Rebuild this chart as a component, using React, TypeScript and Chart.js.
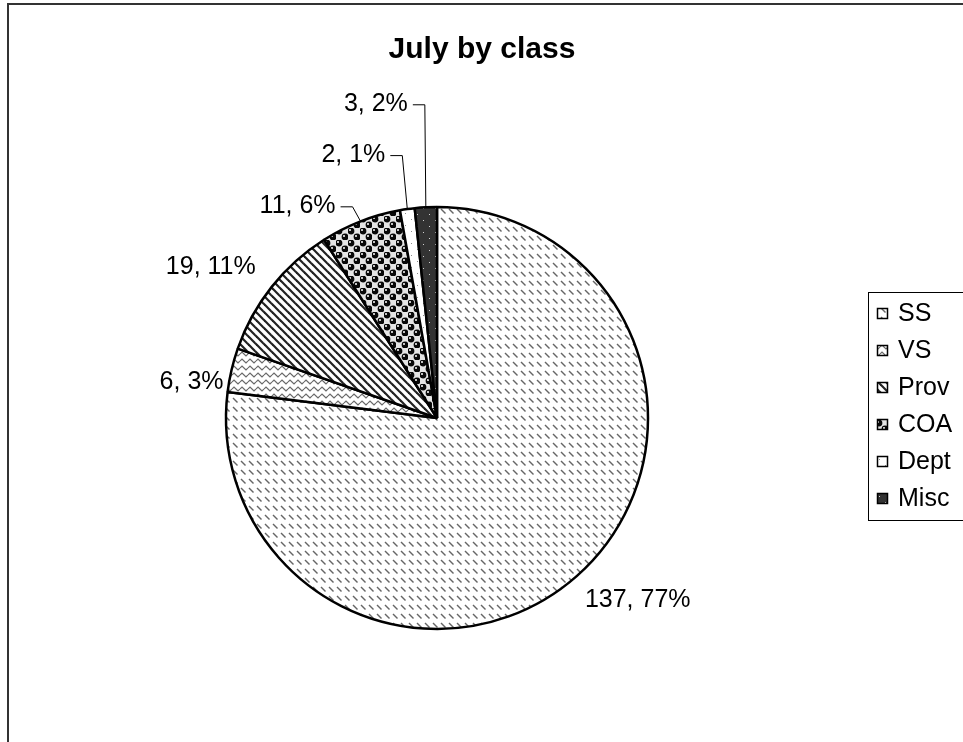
import { useEffect, useRef } from 'react';
import { Chart, registerables } from 'chart.js';

Chart.register(...registerables);

// ---- data ----
const titleText = 'July by class';
const categories = ['SS', 'VS', 'Prov', 'COA', 'Dept', 'Misc'];
const counts = [137, 6, 19, 11, 2, 3];
const patternKinds = ['dashes', 'waves', 'stripes', 'balls', 'dots', 'darkdots'];

// ---- label placement (offsets from the outer edge at each slice's mid angle) ----
const labelPlacement = [
  { dx: 61, dy: 24, align: 'center', leader: false },
  { dx: -8, dy: 12, align: 'right', leader: false },
  { dx: -16, dy: -20, align: 'right', leader: false },
  { dx: -25, dy: -15, align: 'right', leader: true },
  { dx: -22, dy: -54, align: 'right', leader: true },
  { dx: -18, dy: -103, align: 'right', leader: true },
];

const FONT = '"Liberation Sans", Arial, Helvetica, sans-serif';

function makePattern(kind: string): CanvasPattern | string {
  const c = document.createElement('canvas');
  let w = 8, h = 8;
  if (kind === 'dashes') { w = 8; h = 9; }
  if (kind === 'waves') { w = 8; h = 7; }
  if (kind === 'stripes') { w = 8; h = 8; }
  if (kind === 'balls') { w = 12; h = 12; }
  if (kind === 'dots') { w = 12; h = 12; }
  if (kind === 'darkdots') { w = 12; h = 12; }
  c.width = w; c.height = h;
  const g = c.getContext('2d')!;
  g.fillStyle = '#ffffff';
  g.fillRect(0, 0, w, h);
  if (kind === 'dashes') {
    g.strokeStyle = '#666666';
    g.lineWidth = 1.4;
    g.beginPath(); g.moveTo(1, 2); g.lineTo(5.5, 6.5); g.stroke();
  } else if (kind === 'waves') {
    g.strokeStyle = '#6a6a6a';
    g.lineWidth = 1.1;
    g.beginPath();
    g.moveTo(0, 4); g.lineTo(2, 2); g.lineTo(4, 4); g.lineTo(6, 6); g.lineTo(8, 4);
    g.stroke();
  } else if (kind === 'stripes') {
    g.strokeStyle = '#222222';
    g.lineWidth = 2.2;
    for (let k = -1; k <= 1; k++) {
      g.beginPath(); g.moveTo(-2, -2 + 8 * k); g.lineTo(10, 10 + 8 * k); g.stroke();
    }
  } else if (kind === 'balls') {
    g.fillStyle = '#e4e4e4';
    g.fillRect(0, 0, w, h);
    const centers = [[3, 3], [9, 9]];
    for (const [cx, cy] of centers) {
      g.fillStyle = '#080808';
      g.beginPath(); g.arc(cx, cy, 3.4, 0, Math.PI * 2); g.fill();
      g.fillStyle = '#ffffff';
      g.beginPath(); g.arc(cx - 1, cy - 1.1, 1.0, 0, Math.PI * 2); g.fill();
    }
  } else if (kind === 'dots') {
    g.fillStyle = '#8a8a8a';
    g.fillRect(3, 3, 1, 1);
    g.fillRect(9, 9, 1, 1);
  } else if (kind === 'darkdots') {
    g.fillStyle = '#333333';
    g.fillRect(0, 0, w, h);
    g.fillStyle = '#d0d0d0';
    g.fillRect(3, 4, 1, 1);
    g.fillRect(9, 10, 1, 1);
  }
  return g.createPattern(c, 'repeat') || '#ccc';
}

export default function App() {
  const ref = useRef<HTMLCanvasElement | null>(null);

  useEffect(() => {
    const canvas = ref.current;
    if (!canvas) return;
    const patterns = patternKinds.map(makePattern);
    const total = counts.reduce((a, b) => a + b, 0);

    const framePlugin = {
      id: 'frame',
      beforeDraw(chart: any) {
        const ctx = chart.ctx as CanvasRenderingContext2D;
        ctx.save();
        ctx.fillStyle = '#ffffff';
        ctx.fillRect(0, 0, chart.width, chart.height);
        ctx.strokeStyle = '#333333';
        ctx.lineWidth = 2;
        ctx.strokeRect(8, 4, 1000, 1000);
        // title
        ctx.fillStyle = '#000';
        ctx.font = `bold 30px ${FONT}`;
        ctx.textAlign = 'center';
        ctx.textBaseline = 'middle';
        ctx.fillText(titleText, 482, 50);
        ctx.restore();
      },
    };

    const labelPlugin = {
      id: 'sliceLabels',
      afterDatasetsDraw(chart: any) {
        const ctx = chart.ctx as CanvasRenderingContext2D;
        const meta = chart.getDatasetMeta(0);
        ctx.save();
        ctx.font = `25px ${FONT}`;
        ctx.fillStyle = '#000';
        ctx.strokeStyle = '#000';
        ctx.lineWidth = 1;
        ctx.textBaseline = 'middle';
        meta.data.forEach((arc: any, i: number) => {
          const p = arc.getProps(['x', 'y', 'startAngle', 'endAngle', 'outerRadius'], true);
          const mid = (p.startAngle + p.endAngle) / 2;
          const ax = p.x + Math.cos(mid) * p.outerRadius;
          const ay = p.y + Math.sin(mid) * p.outerRadius;
          const place = labelPlacement[i];
          const tx = ax + place.dx;
          const ty = ay + place.dy;
          const pct = Math.round((counts[i] / total) * 100);
          const text = `${counts[i]}, ${pct}%`;
          ctx.textAlign = place.align as CanvasTextAlign;
          ctx.fillText(text, tx, ty);
          if (place.leader) {
            const sx = tx + 5;
            const cx = sx + 12;
            ctx.beginPath();
            ctx.moveTo(sx, ty + 0.5);
            ctx.lineTo(cx, ty + 0.5);
            ctx.lineTo(ax, ay);
            ctx.stroke();
          }
        });
        ctx.restore();
      },
    };

    const legendPlugin = {
      id: 'boxLegend',
      afterDraw(chart: any) {
        const ctx = chart.ctx as CanvasRenderingContext2D;
        ctx.save();
        ctx.strokeStyle = '#000';
        ctx.lineWidth = 1;
        ctx.strokeRect(868.5, 292.5, 200, 228);
        ctx.font = `25px ${FONT}`;
        ctx.textBaseline = 'middle';
        ctx.textAlign = 'left';
        categories.forEach((name, i) => {
          const y = 313 + i * 37;
          ctx.fillStyle = patterns[i] as any;
          ctx.fillRect(877, y - 5, 11, 11);
          ctx.strokeStyle = '#000';
          ctx.lineWidth = 1.5;
          ctx.strokeRect(877.5, y - 4.5, 10, 10);
          ctx.fillStyle = '#000';
          ctx.fillText(name, 898, y + 1);
        });
        ctx.restore();
      },
    };

    const chart = new Chart(canvas, {
      type: 'pie',
      data: {
        labels: categories,
        datasets: [
          {
            data: counts,
            backgroundColor: patterns as any,
            borderColor: '#000000',
            borderWidth: 2.5,
            radius: 211,
          } as any,
        ],
      },
      options: {
        responsive: false,
        animation: false,
        layout: { padding: { left: 200, right: 289, top: 150, bottom: 56 } },
        plugins: {
          legend: { display: false },
          title: { display: false },
          tooltip: { enabled: false },
        },
      },
      plugins: [framePlugin, labelPlugin, legendPlugin],
    });
    return () => chart.destroy();
  }, []);

  return (
    <div style={{ position: 'absolute', left: 0, top: 0, width: 963, height: 742, background: '#fff' }}>
      <canvas ref={ref} width={963} height={742} style={{ display: 'block', width: 963, height: 742 }} />
    </div>
  );
}
